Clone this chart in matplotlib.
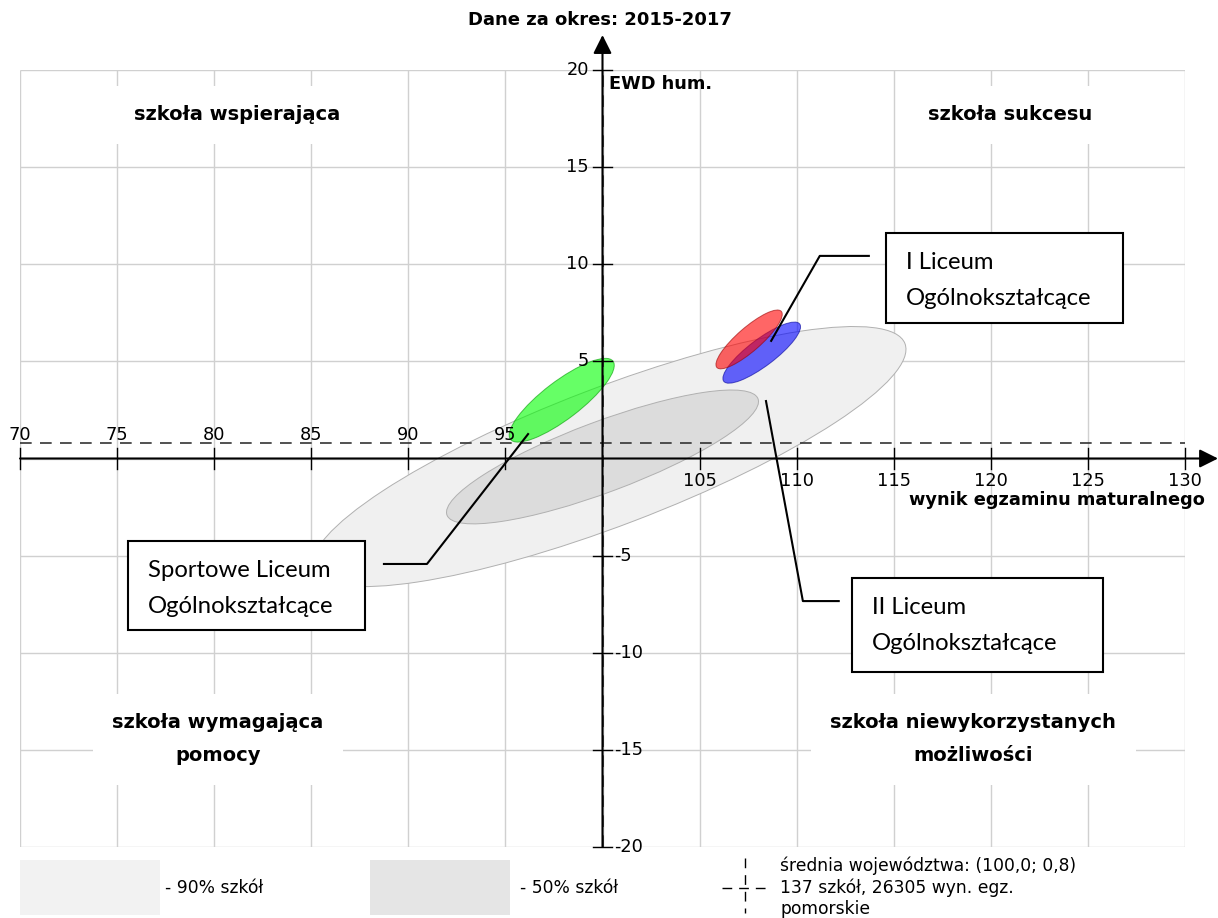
import matplotlib
matplotlib.use("Agg")
import matplotlib.pyplot as plt
from matplotlib.patches import Ellipse, Rectangle
import numpy as np

# ---------------- data ----------------
x_ticks = [70, 75, 80, 85, 90, 95, 100, 105, 110, 115, 120, 125, 130]
y_ticks = [-20, -15, -10, -5, 0, 5, 10, 15, 20]
mean_x = 100.0
mean_y = 0.8

# ellipses: 90% schools, 50% schools, Sportowe LO (green), II LO (blue), I LO (red)
ell_cx = [100.35, 100.0, 97.9, 108.2, 107.55]
ell_cy = [0.1, 0.08, 3.0, 5.45, 6.13]
ell_w = [32.6, 17.1, 6.64, 4.9, 4.4]
ell_h = [7.1, 3.64, 1.95, 1.38, 1.22]
ell_ang = [20.9, 20.5, 37.3, 37.0, 41.0]
ell_fc = ['#f0f0f0', '#dcdcdc', (0.0, 1.0, 0.0, 0.6), (0.0, 0.0, 1.0, 0.6), (1.0, 0.0, 0.0, 0.6)]
ell_ec = ['#b0b0b0', '#b0b0b0', (0.0, 0.6, 0.0, 0.6), (0.0, 0.0, 0.6, 0.6), (0.6, 0.0, 0.0, 0.6)]

quad_labels = ['szkoła wspierająca', 'szkoła sukcesu',
               'szkoła wymagająca\npomocy', 'szkoła niewykorzystanych\nmożliwości']
quad_pos = [(81.2, 17.7), (121.0, 17.7), (80.2, -14.45), (119.1, -14.45)]

school_names = [['I Liceum', 'Ogólnokształcące'],
                ['II Liceum', 'Ogólnokształcące'],
                ['Sportowe Liceum', 'Ogólnokształcące']]
# box (x0, y0, x1, y1) and leader line points in data coords
school_box = [(114.6, 6.98, 126.8, 11.6),
              (112.85, -10.99, 125.77, -6.15),
              (75.56, -8.83, 87.77, -4.25)]
school_line_x = [[113.77, 111.19, 108.66], [112.22, 110.32, 108.41], [88.69, 90.96, 96.2]]
school_line_y = [[10.43, 10.43, 6.01], [-7.34, -7.34, 3.01], [-5.43, -5.43, 1.3]]

legend_text = ['- 90% szkół', '- 50% szkół']
mean_text = ['średnia województwa: (100,0; 0,8)', '137 szkół, 26305 wyn. egz.', 'pomorskie']

# ---------------- figure ----------------
plt.rcParams['font.family'] = ['DejaVu Sans']
fig = plt.figure(figsize=(12.18, 9.18), dpi=100)
ax = fig.add_axes([20 / 1218, 1 - 847 / 918, 1165 / 1218, 777 / 918])
ax.set_xlim(70, 130)
ax.set_ylim(-20, 20)
ax.axis('off')

# grid
ax.vlines(x_ticks, -20, 20, color='#d0d0d0', lw=1.0, zorder=0)
ax.hlines(y_ticks, 70, 130, color='#d0d0d0', lw=1.0, zorder=0)

# quadrant labels with white background
for lab, (qx, qy) in zip(quad_labels, quad_pos):
    ax.text(qx, qy, lab, ha='center', va='center', fontsize=14, fontweight='bold',
            linespacing=1.95, zorder=1,
            bbox=dict(boxstyle='square,pad=1.0', fc='white', ec='none'))

# ellipses
for i in range(len(ell_cx)):
    e = Ellipse((ell_cx[i], ell_cy[i]), ell_w[i], ell_h[i], angle=ell_ang[i],
                fc=ell_fc[i], ec=ell_ec[i], lw=0.7, zorder=2 + i * 0.1)
    ax.add_patch(e)

# mean dashed lines
ax.plot([70, 130], [mean_y, mean_y], color='#333333', lw=1.2, ls=(0, (7, 5)), zorder=3)
ax.plot([mean_x, mean_x], [-20, 20], color='#333333', lw=1.2, ls=(0, (7, 5)), zorder=3)

# axes with arrows
ax.annotate('', xy=(131.7, 0), xytext=(70, 0),
            arrowprops=dict(arrowstyle='-|>', lw=1.5, color='black', mutation_scale=28,
                            shrinkA=0, shrinkB=0), annotation_clip=False, zorder=4)
ax.annotate('', xy=(100, 21.8), xytext=(100, -20),
            arrowprops=dict(arrowstyle='-|>', lw=1.5, color='black', mutation_scale=28,
                            shrinkA=0, shrinkB=0), annotation_clip=False, zorder=4)

# tick marks and labels
tick_fs = 12.8
for t in x_ticks:
    if t == 100:
        continue
    ax.plot([t, t], [-0.52, 0.52], color='black', lw=1.0, zorder=4, clip_on=False)
    if t < 100:
        ax.text(t, 1.2, str(t), ha='center', va='center', fontsize=tick_fs, zorder=5)
    else:
        ax.text(t, -1.15, str(t), ha='center', va='center', fontsize=tick_fs, zorder=5)
for t in y_ticks:
    if t == 0:
        continue
    ax.plot([99.5, 100.5], [t, t], color='black', lw=1.0, zorder=4, clip_on=False)
    if t > 0:
        ax.text(99.3, t, str(t), ha='right', va='center', fontsize=tick_fs, zorder=5)
    else:
        ax.text(100.6, t, str(t), ha='left', va='center', fontsize=tick_fs, zorder=5)

# axis titles
ax.text(100.35, 19.3, 'EWD hum.', ha='left', va='center', fontsize=12.8, fontweight='bold', zorder=5)
ax.text(131.0, -2.15, 'wynik egzaminu maturalnego', ha='right', va='center', fontsize=12.8,
        fontweight='bold', zorder=5, clip_on=False)
fig.text(600 / 1218, 1 - 20 / 918, 'Dane za okres: 2015-2017', ha='center', va='center',
         fontsize=13, fontweight='bold')

# school annotation boxes
for names, (x0, y0, x1, y1), lx, ly in zip(school_names, school_box, school_line_x, school_line_y):
    ax.add_patch(Rectangle((x0, y0), x1 - x0, y1 - y0, fc='white', ec='black', lw=1.5,
                           zorder=6, clip_on=False))
    tx = x0 + 1.03
    ax.text(tx, y1 - 1.5, names[0], ha='left', va='center', fontsize=17.2,
            family=['Lato', 'DejaVu Sans'], zorder=7)
    ax.text(tx, y1 - 3.35, names[1], ha='left', va='center', fontsize=17.2,
            family=['Lato', 'DejaVu Sans'], zorder=7)
    ax.plot(lx, ly, color='black', lw=1.5, zorder=6, solid_capstyle='butt')

# bottom legend
fig.patches.append(Rectangle((20 / 1218, 1 - 915 / 918), 140 / 1218, 55 / 918,
                             transform=fig.transFigure, fc='#f2f2f2', ec='none'))
fig.patches.append(Rectangle((370 / 1218, 1 - 915 / 918), 140 / 1218, 55 / 918,
                             transform=fig.transFigure, fc='#e5e5e5', ec='none'))
fig.text(165 / 1218, 1 - 888 / 918, legend_text[0], ha='left', va='center', fontsize=12.3)
fig.text(520 / 1218, 1 - 888 / 918, legend_text[1], ha='left', va='center', fontsize=12.3)
fig.lines.append(plt.Line2D([745 / 1218, 745 / 1218], [1 - 858 / 918, 1 - 913 / 918],
                            transform=fig.transFigure, color='black', lw=1.0, ls=(0, (7, 5))))
fig.lines.append(plt.Line2D([722 / 1218, 768 / 1218], [1 - 888 / 918, 1 - 888 / 918],
                            transform=fig.transFigure, color='black', lw=1.0, ls=(0, (7, 5))))
for k, s in enumerate(mean_text):
    fig.text(780 / 1218, 1 - (866 + 21.5 * k) / 918, s, ha='left', va='center', fontsize=12.3)

fig.savefig('out.png', dpi=100, facecolor='white')
